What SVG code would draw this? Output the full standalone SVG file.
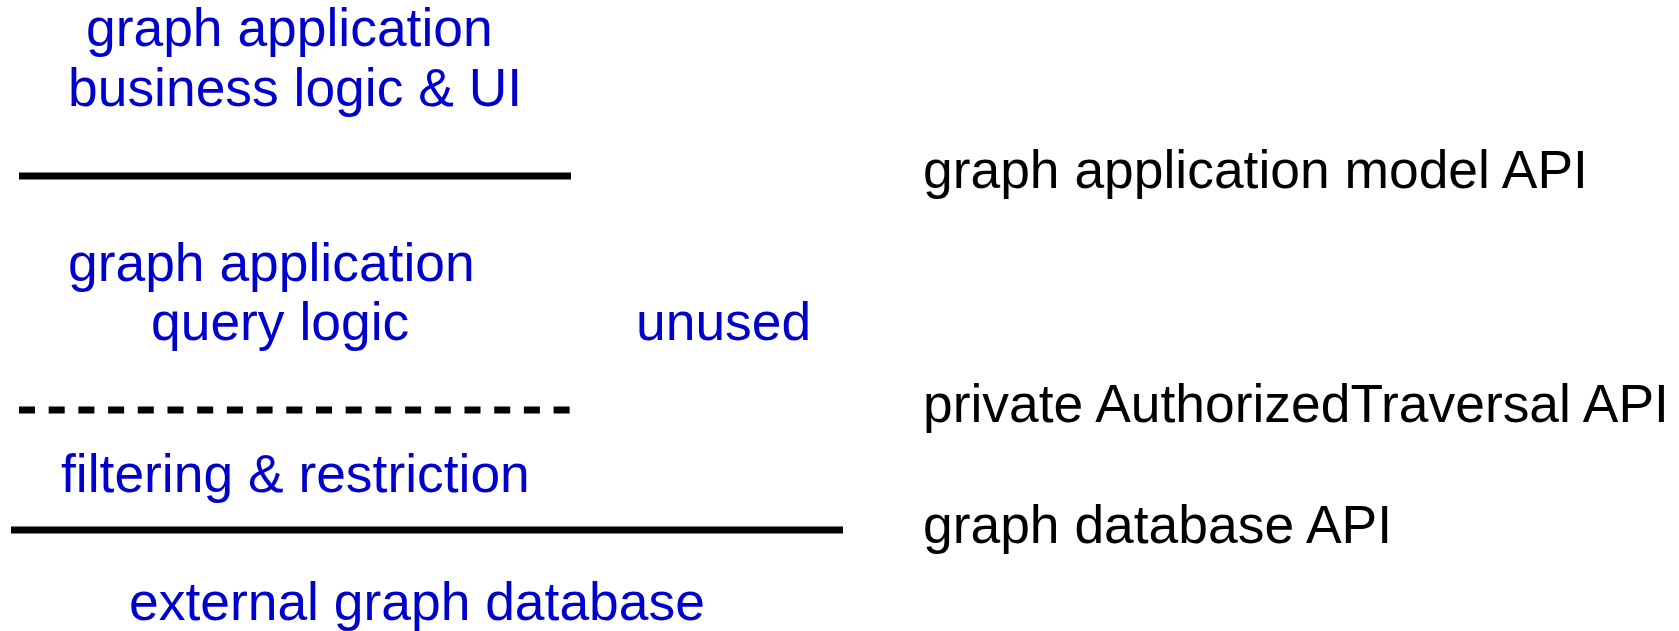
<svg xmlns="http://www.w3.org/2000/svg" width="1679" height="631" viewBox="0 0 1679 631">
<style>
.t{font-family:"Liberation Sans",Arial,sans-serif;font-size:53.4px}
.b{fill:#0000cc}
.k{fill:#000}
.ln{stroke:#000;stroke-width:7;fill:none}
.dash{stroke-dasharray:16 13.7}
</style>
<rect width="1679" height="631" fill="#fff"/>
<g id="layer-business"><text class="t b" x="86" y="46">graph application</text><text class="t b" x="68" y="106">business logic &amp; UI</text></g>
<g id="layer-query"><text class="t b" x="68" y="281">graph application</text><text class="t b" x="151" y="340">query logic</text></g>
<g id="layer-unused"><text class="t b" x="636" y="340">unused</text></g>
<g id="layer-filter"><text class="t b" x="61" y="492">filtering &amp; restriction</text></g>
<g id="layer-db"><text class="t b" x="129" y="620">external graph database</text></g>
<g id="api-model"><text class="t k" x="923" y="188">graph application model API</text></g>
<g id="api-private"><text class="t k" x="923" y="422">private AuthorizedTraversal API</text></g>
<g id="api-db"><text class="t k" x="923" y="543">graph database API</text></g>
<g id="connectors">
<line class="ln" x1="19" y1="176" x2="571" y2="176"/>
<line class="ln dash" x1="19" y1="410" x2="571" y2="410"/>
<line class="ln" x1="11" y1="530" x2="843" y2="530"/>
</g>
</svg>
